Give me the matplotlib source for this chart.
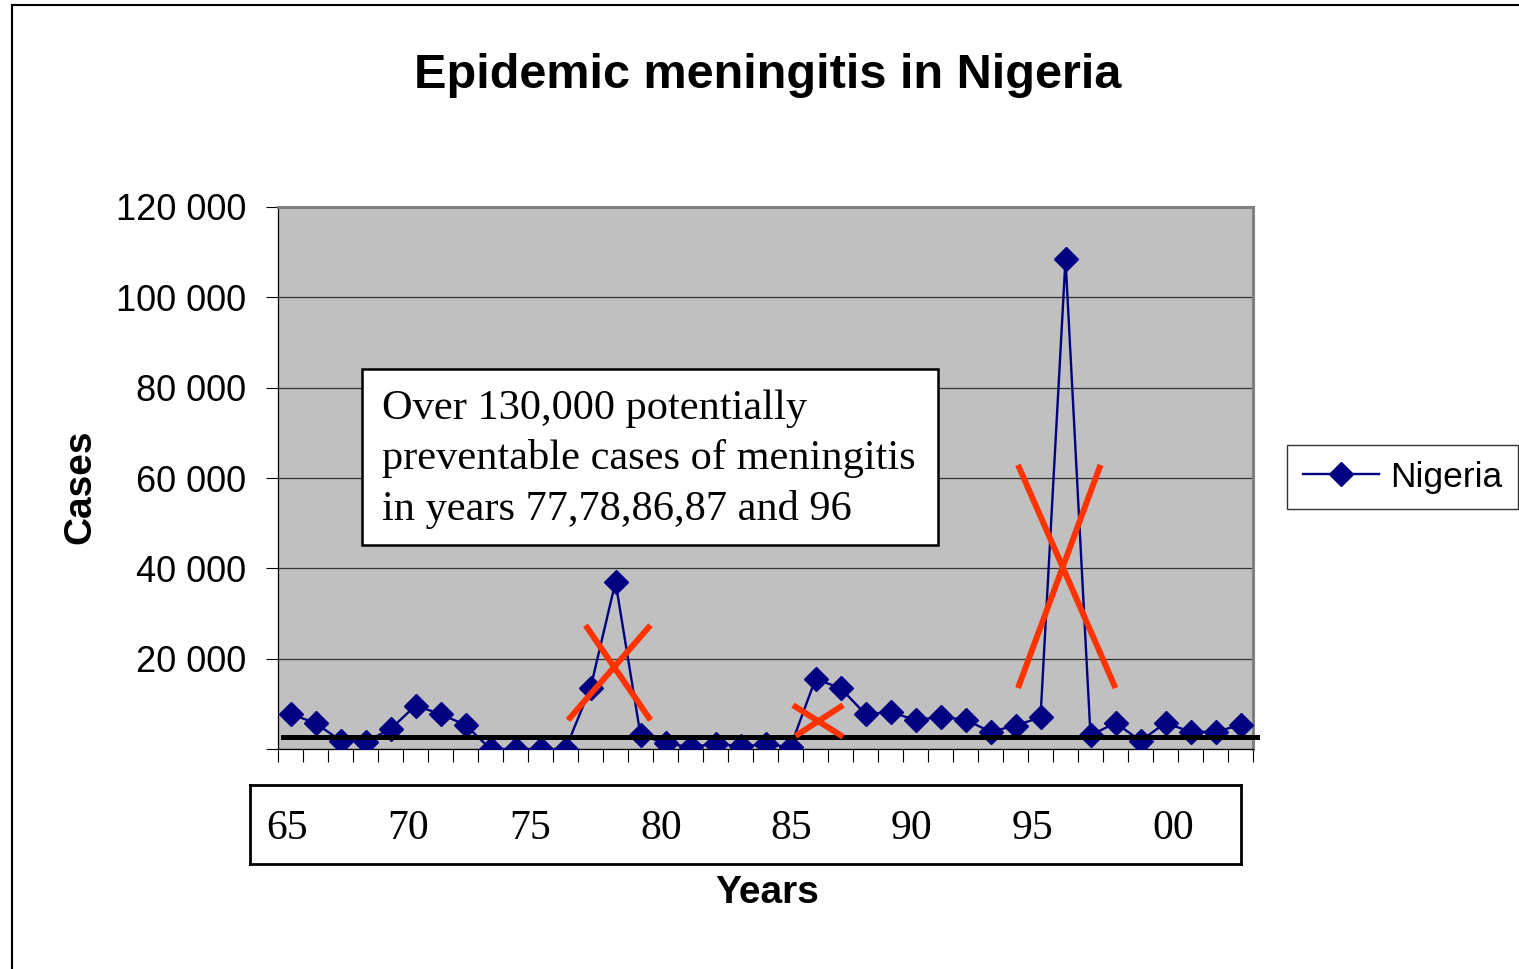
import matplotlib
matplotlib.use("Agg")
import matplotlib.pyplot as plt
import matplotlib.font_manager as fm
from matplotlib.patches import Rectangle

# ---------------- data ----------------
years = list(range(1965, 2004))
cases = [7750, 5750, 1850, 1600, 4400, 9600, 7750, 5300, 0, 0, 0, 0,
         13500, 37000, 3100, 1300, 400, 1200, 600, 1000, 500,
         15500, 13500, 7700, 8200, 6400, 7100, 6500, 3800, 5200, 7000,
         108500, 3000, 5800, 1800, 5800, 3800, 3800, 5300]
series_name = "Nigeria"
y_ticks = [0, 20000, 40000, 60000, 80000, 100000, 120000]
y_tick_labels = ["", "20 000", "40 000", "60 000", "80 000", "100 000", "120 000"]
year_labels = ["65", "70", "75", "80", "85", "90", "95", "00"]
title = "Epidemic meningitis in Nigeria"
note = "Over 130,000 potentially\npreventable cases of meningitis\nin years 77,78,86,87 and 96"
threshold = 2660
# red crosses: (year, cases) endpoints of each stroke
cross_strokes = [
    [(1976.1, 6400), (1979.4, 27400)],
    [(1976.8, 27400), (1979.4, 6400)],
    [(1985.1, 9700), (1987.1, 2700)],
    [(1985.2, 2900), (1987.1, 9700)],
    [(1994.1, 62900), (1998.0, 13500)],
    [(1994.1, 13500), (1997.4, 62900)],
]

# ---------------- layout ----------------
W, H = 1519, 969
names = {f.name for f in fm.fontManager.ttflist}
narrow = "Liberation Sans Narrow" in names
sans = ["Liberation Sans Narrow", "Liberation Sans", "DejaVu Sans"] if narrow else ["Liberation Sans", "DejaVu Sans"]
serif = ["Liberation Serif", "DejaVu Serif"]
if narrow:
    fs_title, fs_tick, fs_lab, fs_leg = 42, 31, 31, 31
else:
    fs_title, fs_tick, fs_lab, fs_leg = 35, 26, 28, 25.5

fig = plt.figure(figsize=(W / 100, H / 100), dpi=100)
fig.patch.set_facecolor("white")

# outer chart border (right/bottom beyond the picture)
fig.patches.append(Rectangle((12 / W, -0.1), 1.2, 1.1 - 5 / H, transform=fig.transFigure,
                             fill=False, edgecolor="black", lw=1.5))

ax = fig.add_axes([278 / W, (H - 749) / H, 975 / W, 542 / H])
ax.set_facecolor("#C0C0C0")
x = [y - years[0] for y in years]
ax.plot(x, cases, color="#000080", lw=1.7, marker="D", ms=12.5,
        markerfacecolor="#000080", markeredgecolor="#000080", label=series_name, zorder=4)

ax.set_xlim(-0.5, len(years) - 0.5)
ax.set_ylim(0, 120000)
ax.set_xticks([i - 0.5 for i in range(len(years) + 1)])
ax.set_xticklabels([])
ax.set_yticks(y_ticks)
ax.set_yticklabels(y_tick_labels, family=sans, fontsize=fs_tick)
ax.tick_params(axis="x", direction="out", length=9.5, width=0.8, color="black")
ax.tick_params(axis="y", direction="out", length=9, width=0.8, color="black", pad=14)
ax.yaxis.grid(True, color="#333333", lw=0.9)
ax.set_axisbelow(True)
for s in ["top", "right"]:
    ax.spines[s].set_color("#808080")
    ax.spines[s].set_linewidth(2.2)
for s in ["left", "bottom"]:
    ax.spines[s].set_color("black")
    ax.spines[s].set_linewidth(0.9)

# threshold line
ax.plot([-0.3, len(years) - 0.34], [threshold, threshold], color="black", lw=3.6,
        clip_on=False, zorder=5)

# red crosses
for (y0, c0), (y1, c1) in cross_strokes:
    ax.plot([y0 - years[0], y1 - years[0]], [c0, c1], color="#FF3300", lw=4.3,
            solid_capstyle="butt", zorder=6)

# note box
ax.add_patch(Rectangle((84 / 975, (749 - 545) / 542), 576 / 975, 176 / 542,
                       transform=ax.transAxes, facecolor="white", edgecolor="black",
                       lw=1.8, zorder=7))
ax.text(104 / 975, (749 - 459) / 542, note, transform=ax.transAxes, ha="left", va="center",
        family=serif, fontsize=30.5, linespacing=1.38, zorder=8)

# legend
leg = ax.legend(loc="center left", bbox_to_anchor=(1287 / W, (H - 477) / H),
                bbox_transform=fig.transFigure, borderaxespad=0, frameon=True,
                fancybox=False, prop={"family": sans, "size": fs_leg},
                handlelength=2.15, handletextpad=0.3, borderpad=0.45, markerscale=1.0)
leg.get_frame().set_edgecolor("black")
leg.get_frame().set_linewidth(1.0)
leg.legend_handles[0].set_markersize(12.5)

# year label box
axb = fig.add_axes([250 / W, (H - 864) / H, 991 / W, 79 / H])
axb.set_xticks([])
axb.set_yticks([])
for s in axb.spines.values():
    s.set_linewidth(2.0)
    s.set_color("black")
label_pos = [0.037, 0.160, 0.2825, 0.415, 0.546, 0.668, 0.790, 0.932]
for lab, px in zip(year_labels, label_pos):
    axb.text(px, 0.45, lab, transform=axb.transAxes, ha="center", va="center",
             family=serif, fontsize=30)

# titles / axis labels
fig.text(768 / W, 1 - 75 / H, title, ha="center", va="center", family=sans,
         fontsize=fs_title, fontweight="bold")
fig.text(80 / W, 1 - 487 / H, "Cases", ha="center", va="center", rotation=90,
         family=sans, fontsize=fs_lab, fontweight="bold")
fig.text(767 / W, 1 - 893 / H, "Years", ha="center", va="center", family=sans,
         fontsize=fs_lab, fontweight="bold")

fig.savefig("out.png", dpi=100)
